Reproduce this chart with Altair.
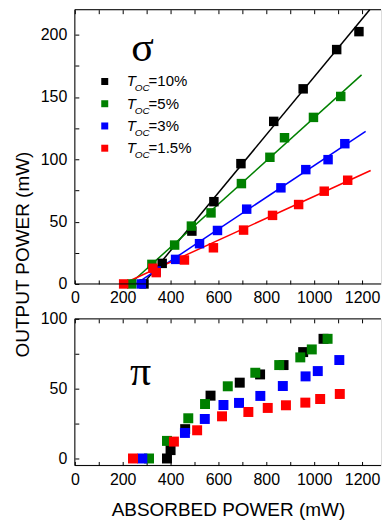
import altair as alt
import pandas as pd

FONT = "Liberation Sans"
SERIES = ["10%", "5%", "3%", "1.5%"]
COLORS = ["#000000", "#008000", "#0000ff", "#ff0000"]
LEGEND_PCT = ["=10%", "=5%", "=3%", "=1.5%"]

# sigma polarisation (top panel)
sig_10_x = [289, 365, 489, 581, 694, 831, 954, 1094, 1187]
sig_10_y = [0, 16.5, 42.4, 66, 96.5, 130.4, 156.5, 188, 202.4]
sig_5_x = [238, 322, 417, 487, 569, 696, 815, 876, 997, 1111]
sig_5_y = [0, 15.7, 31.2, 46.4, 57, 80.5, 101.6, 117.3, 133.6, 150.4]
sig_3_x = [278, 340, 421, 521, 596, 718, 861, 965, 1058, 1128]
sig_3_y = [0, 10.4, 19.7, 32.3, 42.9, 60, 77.1, 91.7, 99.7, 112.5]
sig_15_x = [204, 326, 340, 458, 579, 705, 826, 935, 1042, 1140]
sig_15_y = [0, 12.6, 9.1, 19.2, 29, 43.2, 55, 63.7, 74.4, 83.2]

# linear fits (start / end points)
fit_x0 = [285, 230, 255, 200]
fit_y0 = [0, 0, 0, 0]
fit_x1 = [1232, 1198, 1215, 1236]
fit_y1 = [220, 167.7, 122.4, 91]

# pi polarisation (bottom panel)
pi_10_x = [385, 400, 461, 567, 689, 774, 872, 954, 1039]
pi_10_y = [0, 6, 21, 45, 54.3, 60.2, 66.9, 76.2, 85.7]
pi_5_x = [310, 385, 474, 544, 639, 754, 854, 942, 990, 1056]
pi_5_y = [0, 12.6, 28.8, 39, 51.7, 61.4, 66.9, 72.4, 78.1, 85.7]
pi_3_x = [282, 460, 543, 621, 686, 775, 869, 964, 1015, 1105]
pi_3_y = [0, 18.3, 28.3, 38.3, 39.8, 44.8, 51.9, 58.8, 62.6, 70.5]
pi_15_x = [243, 414, 511, 615, 725, 806, 882, 963, 1025, 1107]
pi_15_y = [0, 12.1, 20.2, 30.2, 33.3, 36.2, 38.1, 40, 42.6, 46.2]

x_ticks = list(range(0, 1201, 100))
y_top_ticks = list(range(0, 201, 25))
y_bot_ticks = [0, 25, 50, 75, 100]

W = 307
XMAX = W / 0.24
H_TOP = 275
H_BOT = 147


def build(pairs):
    rows = []
    for name, xs, ys in pairs:
        for x, y in zip(xs, ys):
            rows.append({"series": name, "x": x, "y": y})
    return pd.DataFrame(rows)


sig_df = build([("10%", sig_10_x, sig_10_y), ("5%", sig_5_x, sig_5_y),
                ("3%", sig_3_x, sig_3_y), ("1.5%", sig_15_x, sig_15_y)])
pi_df = build([("10%", pi_10_x, pi_10_y), ("5%", pi_5_x, pi_5_y),
               ("3%", pi_3_x, pi_3_y), ("1.5%", pi_15_x, pi_15_y)])
fit_rows = []
for i, s in enumerate(SERIES):
    fit_rows.append({"series": s, "x": fit_x0[i], "y": fit_y0[i]})
    fit_rows.append({"series": s, "x": fit_x1[i], "y": fit_y1[i]})
fit_df = pd.DataFrame(fit_rows)

color = alt.Color("series:N", scale=alt.Scale(domain=SERIES, range=COLORS), legend=None)
xscale = alt.Scale(domain=[0, XMAX], nice=False, zero=False)
x_label_expr = "datum.value % 200 == 0 ? datum.label : ''"
y_label_expr = "datum.value % 50 == 0 ? datum.label : ''"


def x_bottom_axis(title=None):
    kw = dict(orient="bottom", values=x_ticks, labelExpr=x_label_expr, format="d",
              offset=-4, tickSize=4, domain=False, grid=False, labelPadding=6,
              labelFontSize=16, labelFont=FONT, labelColor="black", tickColor="black",
              labelFlush=False, labelOverlap=False, title=title)
    if title:
        kw.update(titleFont=FONT, titleFontSize=19, titleFontWeight="normal",
                  titleColor="black", titlePadding=13)
    return alt.Axis(**kw)


x_top_axis = alt.Axis(orient="top", values=x_ticks, offset=-4, tickSize=4, labels=False,
                      domain=False, grid=False, tickColor="black", title=None)


def y_left_axis(values, title=None):
    kw = dict(orient="left", values=values, labelExpr=y_label_expr, format="d",
              offset=-4, tickSize=4, domain=False, grid=False, labelPadding=8,
              labelFontSize=16, labelFont=FONT, labelColor="black", tickColor="black",
              labelFlush=False, labelOverlap=False, title=title)
    if title:
        kw.update(titleFont=FONT, titleFontSize=19, titleFontWeight="normal",
                  titleColor="black", titleAngle=270, titleX=-46, titleY=245,
                  titleAlign="center", titleBaseline="bottom")
    return alt.Axis(**kw)


def frame(h):
    one = pd.DataFrame({"k": [0]})
    top_line = alt.Chart(one).mark_rule(color="black", strokeWidth=1).encode(
        x=alt.value(0), x2=alt.value(W), y=alt.value(0))
    bottom_line = alt.Chart(one).mark_rule(color="black", strokeWidth=1).encode(
        x=alt.value(0), x2=alt.value(W), y=alt.value(h))
    left_line = alt.Chart(one).mark_rule(color="black", strokeWidth=1).encode(
        x=alt.value(0), y=alt.value(0), y2=alt.value(h))
    return [top_line, bottom_line, left_line]


# ---------- top panel (sigma) ----------
top_lines = alt.Chart(fit_df).mark_line(strokeWidth=1.5).encode(
    x=alt.X("x:Q", scale=xscale, axis=x_top_axis),
    y=alt.Y("y:Q", scale=alt.Scale(domain=[0, 220], nice=False), axis=None),
    color=color, detail="series:N")

top_pts = alt.Chart(sig_df).mark_square(size=90, opacity=1).encode(
    x=alt.X("x:Q", scale=xscale, axis=x_bottom_axis()),
    y=alt.Y("y:Q", scale=alt.Scale(domain=[0, 220], nice=False),
            axis=y_left_axis(y_top_ticks, "OUTPUT POWER (mW)")),
    color=color)

leg_df = pd.DataFrame({"series": SERIES, "pct": LEGEND_PCT, "row": [0, 1, 2, 3]})
leg_base = alt.Chart(leg_df).transform_calculate(py="72 + datum.row * 22.3")
ly = alt.Y("py:Q", scale=None, axis=None)
leg_sq = leg_base.mark_square(size=49, opacity=1).encode(x=alt.value(30), y=ly, color=color)
leg_t = leg_base.mark_text(text="T", font=FONT, fontStyle="italic", fontSize=15,
                           align="left", baseline="middle", color="black").encode(
    x=alt.value(52), y=ly)
leg_oc = leg_base.mark_text(text="OC", font=FONT, fontStyle="italic", fontSize=10,
                            align="left", baseline="middle", dy=7, color="black").encode(
    x=alt.value(60), y=ly)
leg_pct = leg_base.mark_text(font=FONT, fontSize=15, align="left", baseline="middle",
                             color="black").encode(x=alt.value(74), y=ly, text="pct:N")

sigma = alt.Chart(pd.DataFrame({"t": ["σ"]})).mark_text(
    font="Liberation Serif", fontSize=42, align="center", baseline="middle",
    color="black").encode(x=alt.value(68), y=alt.value(38), text="t:N")

top = alt.layer(top_lines, top_pts, leg_sq, leg_t, leg_oc, leg_pct, sigma,
                *frame(H_TOP)).resolve_axis(
    x="independent", y="independent").properties(width=W, height=H_TOP)

# ---------- bottom panel (pi) ----------
bscale = alt.Scale(domain=[-5, 100], nice=False, zero=False)
bot_ticks = alt.Chart(pi_df).mark_square(size=90, opacity=0).encode(
    x=alt.X("x:Q", scale=xscale, axis=x_top_axis),
    y=alt.Y("y:Q", scale=bscale, axis=None))
bot_pts = alt.Chart(pi_df).mark_square(size=100, opacity=1).encode(
    x=alt.X("x:Q", scale=xscale, axis=x_bottom_axis("ABSORBED POWER (mW)")),
    y=alt.Y("y:Q", scale=bscale, axis=y_left_axis(y_bot_ticks)),
    color=color)
pi_txt = alt.Chart(pd.DataFrame({"t": ["π"]})).mark_text(
    font="Liberation Serif", fontSize=42, align="center", baseline="middle",
    color="black").encode(x=alt.value(66), y=alt.value(53), text="t:N")

bottom = alt.layer(bot_ticks, bot_pts, pi_txt, *frame(H_BOT)).resolve_axis(
    x="independent", y="independent").properties(width=W, height=H_BOT)

chart = alt.vconcat(top, bottom, spacing=35, bounds="flush").properties(
    padding={"left": 5, "top": -3, "right": 0, "bottom": 0}
).configure_view(strokeWidth=0).configure(background="white")

chart.save("out.html", embed_options={"renderer": "svg", "actions": False})
